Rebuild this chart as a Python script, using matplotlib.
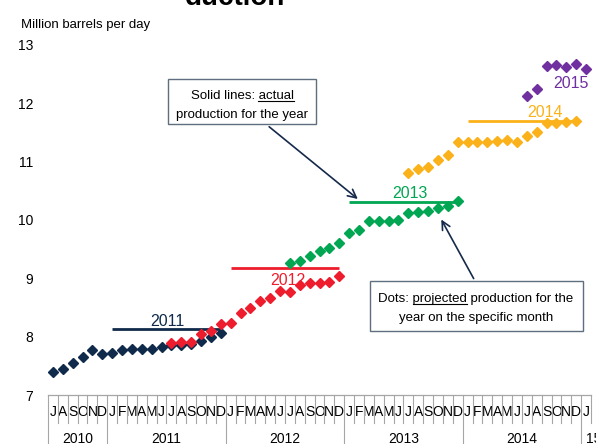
"""Oil production chart: monthly projections (dots) vs. actual yearly production (lines)."""
import matplotlib
matplotlib.use("Agg")
import matplotlib.pyplot as plt
from matplotlib import font_manager
from matplotlib.lines import Line2D
from matplotlib.patches import Rectangle

W, H = 596, 444

# month axis: Jul 2010 .. Jan 2015
MONTH_LABELS = list("JASOND" + "JFMAMJJASOND" * 4 + "J")
YEAR_LABELS = ["2010", "2011", "2012", "2013", "2014", "15"]
YEAR_STARTS = [0, 6, 18, 30, 42, 54]

# projected production for each year, by month of estimate (million b/d)
PROJ_2011 = [7.39, 7.45, 7.55, 7.65, 7.77, 7.71, 7.72, 7.77, 7.79, 7.79, 7.79, 7.82,
             7.86, 7.86, 7.88, 7.93, 7.99, 8.06]
PROJ_2012 = [7.89, 7.91, 7.91, 8.04, 8.09, 8.22, 8.24, 8.40, 8.49, 8.61, 8.66, 8.78,
             8.77, 8.89, 8.92, 8.92, 8.94, 9.04]
PROJ_2013 = [9.26, 9.30, 9.38, 9.47, 9.52, 9.61, 9.78, 9.83, 9.98, 9.98, 9.98, 10.00,
             10.12, 10.14, 10.15, 10.21, 10.24, 10.33]
PROJ_2014 = [10.81, 10.88, 10.90, 11.03, 11.12, 11.34, 11.34, 11.34, 11.34, 11.36, 11.37, 11.33,
             11.44, 11.51, 11.66, 11.66, 11.68, 11.70]
PROJ_2015 = [12.13, 12.25, 12.64, 12.66, 12.62, 12.67, 12.59]
PROJ_START = [0, 12, 24, 36, 48]  # first month index of each series

# actual production for the year
ACTUAL_YEARS = ["2011", "2012", "2013", "2014"]
ACTUAL_VALUES = [8.13, 9.18, 10.31, 11.70]
ACTUAL_START = [6, 18, 30, 42]

COLORS = ["#0f2a4a", "#ee1d2e", "#00a651", "#fbb21a", "#7030a0"]

available = {f.name for f in font_manager.fontManager.ttflist}
FONT = "Liberation Sans Narrow" if "Liberation Sans Narrow" in available else "Liberation Sans"
plt.rcParams["font.family"] = [FONT, "DejaVu Sans"]
FS = 9.5


def fig_xy(x, y):
    return x / W, 1 - y / H


fig = plt.figure(figsize=(W / 100, H / 100), dpi=100)
ax = fig.add_axes([48 / W, (H - 395) / H, 543 / W, 350 / H])
ax.set_xlim(0, len(MONTH_LABELS))
ax.set_ylim(7, 13)
for s in ax.spines.values():
    s.set_visible(False)

ax.set_yticks(range(7, 14))
ax.tick_params(axis="y", length=0, pad=10.5, labelsize=FS + 0.5)
ax.set_xticks([i + 0.5 for i in range(len(MONTH_LABELS))], MONTH_LABELS)
ax.tick_params(axis="x", length=0, pad=7, labelsize=FS + 0.5)

# category grid under the plot
xt = ax.get_xaxis_transform()
grid = "#a6a6a6"
ax.plot([0, len(MONTH_LABELS)], [0, 0], color=grid, lw=0.9, transform=xt, clip_on=False)
for k in range(len(MONTH_LABELS) + 1):
    low = -0.17 if k in YEAR_STARTS else -0.08
    ax.plot([k, k], [0, low], color=grid, lw=0.8, transform=xt, clip_on=False)
year_ends = YEAR_STARTS[1:] + [len(MONTH_LABELS)]
for lab, a, b in zip(YEAR_LABELS, YEAR_STARTS, year_ends):
    short = lab == "15"
    xpos = a + 0.45 if short else (a + b) / 2
    ax.text(xpos, -37 / 350, lab, transform=xt, ha="left" if short else "center",
            va="top", fontsize=FS + 0.5)

# projections
for vals, start, c in zip([PROJ_2011, PROJ_2012, PROJ_2013, PROJ_2014, PROJ_2015], PROJ_START, COLORS):
    xs = [start + i + 0.5 for i in range(len(vals))]
    ax.plot(xs, vals, ls="none", marker="D", ms=5.6, color=c, mec=c, clip_on=False, zorder=3)

# actuals
LABEL_X = [12.1, 24.3, 36.7, 50.3]
LABEL_ABOVE = [True, False, True, True]
for year, v, start, c, lx, above in zip(ACTUAL_YEARS, ACTUAL_VALUES, ACTUAL_START, COLORS, LABEL_X, LABEL_ABOVE):
    ax.plot([start + 0.5, start + 11.5], [v, v], color=c, lw=2, solid_capstyle="butt", zorder=2)
    ax.annotate(year, (lx, v), xytext=(0, 2.5 if above else -4), textcoords="offset points",
                ha="center", va="baseline" if above else "top", fontsize=11.5, color=c)
ax.text(53.0, 12.26, "2015", ha="center", va="baseline", fontsize=11.5, color=COLORS[4])

# text, boxes, arrows
fig.text(*fig_xy(185, 5), "duction", fontsize=20, fontweight="bold", ha="left", va="baseline")
fig.text(*fig_xy(21, 28), "Million barrels per day", fontsize=FS, ha="left", va="baseline")

renderer = fig.canvas.get_renderer()


def box_line(x, y, text, word=None):
    t = fig.text(*fig_xy(x, y), text, ha="center", va="baseline", fontsize=FS, zorder=6)
    if word is None:
        return
    bb = t.get_window_extent(renderer=renderer)
    head = text[: text.index(word) + len(word)]
    tmp_head = fig.text(0, 0, head, fontsize=FS)
    tmp_word = fig.text(0, 0, word, fontsize=FS)
    w_head = tmp_head.get_window_extent(renderer=renderer).width
    w_word = tmp_word.get_window_extent(renderer=renderer).width
    tmp_head.remove()
    tmp_word.remove()
    x1 = bb.x0 + w_head
    x0 = x1 - w_word
    yy = (H - y - 1.8) / H
    fig.add_artist(Line2D([x0 / W, x1 / W], [yy, yy], transform=fig.transFigure,
                          color="black", lw=0.8, zorder=6))


edge = "#5f6f7f"
fig.add_artist(Rectangle(fig_xy(168, 124), 148 / W, 45 / H, transform=fig.transFigure,
                         facecolor="white", edgecolor=edge, lw=1.0, zorder=4))
fig.add_artist(Rectangle(fig_xy(370, 331), 213 / W, 50 / H, transform=fig.transFigure,
                         facecolor="white", edgecolor=edge, lw=1.0, zorder=4))
box_line(242, 99, "Solid lines: actual", "actual")
box_line(242, 118, "production for the year")
box_line(476, 302, "Dots: projected production for the", "projected")
box_line(476, 321, "year on the specific month")

arrow = dict(arrowstyle="->,head_length=0.6,head_width=0.3", color="#15294b", lw=1.2)
ax.annotate("", xy=(31.6, 10.33), xycoords="data", xytext=fig_xy(267, 125),
            textcoords="figure fraction", arrowprops=arrow)
ax.annotate("", xy=(39.7, 10.05), xycoords="data", xytext=fig_xy(475, 281),
            textcoords="figure fraction", arrowprops=arrow)

fig.savefig("out.png", dpi=100)
